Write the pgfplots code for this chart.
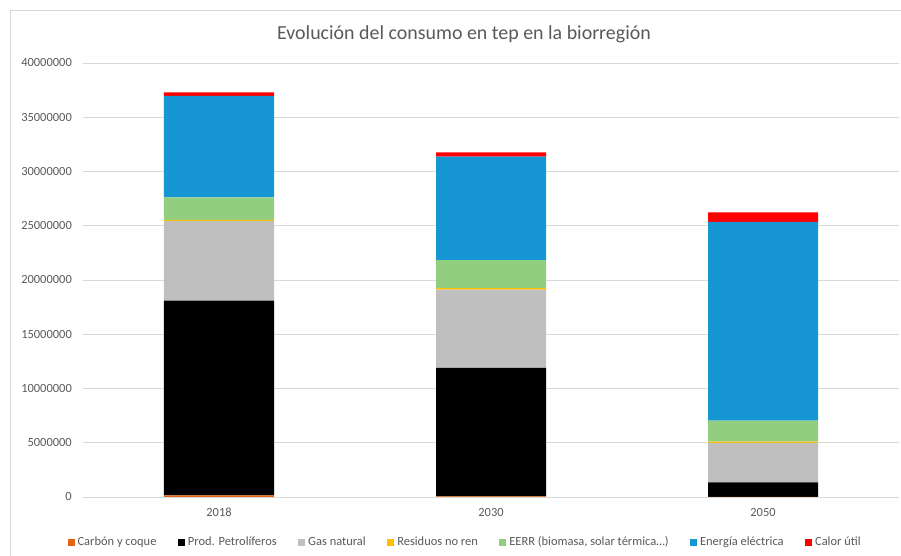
\documentclass[border=0pt]{standalone}
\usepackage{fontspec}
\setmainfont{Carlito}
\usepackage{pgfplots}
\pgfplotsset{compat=1.18}
\definecolor{txt}{RGB}{89,89,89}
\definecolor{gridc}{RGB}{217,217,217}
\definecolor{cCarbon}{RGB}{228,100,20}
\definecolor{cPetro}{RGB}{0,0,0}
\definecolor{cGas}{RGB}{191,191,191}
\definecolor{cRes}{RGB}{255,192,0}
\definecolor{cEERR}{RGB}{146,206,128}
\definecolor{cElec}{RGB}{22,150,210}
\definecolor{cCalor}{RGB}{255,0,0}
\begin{document}
\begin{tikzpicture}
\draw[gridc, line width=0.8bp] (-73bp,-70bp) -- (-73bp,487bp) -- (830bp,487bp);
\node[text=txt, font=\fontsize{20}{24}\selectfont] at (381bp,463bp) {Evolución del consumo en tep en la biorregión};
\begin{axis}[
  at={(0,0)}, anchor=south west,
  scale only axis, width=816bp, height=434bp,
  xmin=-0.5, xmax=2.5, ymin=0, ymax=40000000,
  ybar stacked, bar width=110bp,
  xtick={0,1,2}, xticklabels={2018,2030,2050},
  ytick={0,5000000,10000000,15000000,20000000,25000000,30000000,35000000,40000000},
  scaled y ticks=false,
  /pgf/number format/.cd, fixed, 1000 sep={}, assume math mode=true, /pgfplots/.cd,
  ymajorgrids, grid style={gridc, line width=0.8bp},
  major tick length=0pt,
  axis line style={draw=none},
  ticklabel style={font=\fontsize{12.5}{15}\selectfont, text=txt, inner sep=0pt},
  yticklabel style={anchor=east, xshift=-11bp},
  xticklabel style={anchor=north, yshift=-11bp},
  legend columns=7,
  legend style={at={(0.468,-0.1037)}, anchor=center, draw=none, fill=none,
    font=\fontsize{12.5}{15}\selectfont, text=txt, inner sep=0pt,
    nodes={inner sep=1.5bp},
    /tikz/every odd column/.append style={column sep=1.5bp},
    /tikz/every even column/.append style={column sep=20bp}},
  legend cell align=left,
  legend image code/.code={\fill[#1] (0bp,-3.5bp) rectangle (7bp,3.5bp);},
]
\addplot[fill=cCarbon, draw=none] coordinates {(0,150000) (1,50000) (2,20000)};
\addlegendentry{Carbón y coque}
\addplot[fill=cPetro, draw=none] coordinates {(0,17950000) (1,11840000) (2,1330000)};
\addlegendentry{Prod. Petrolíferos}
\addplot[fill=cGas, draw=none] coordinates {(0,7350000) (1,7220000) (2,3630000)};
\addlegendentry{Gas natural}
\addplot[fill=cRes, draw=none] coordinates {(0,100000) (1,150000) (2,120000)};
\addlegendentry{Residuos no ren}
\addplot[fill=cEERR, draw=none] coordinates {(0,2070000) (1,2580000) (2,1930000)};
\addlegendentry{EERR (biomasa, solar térmica\ldots)}
\addplot[fill=cElec, draw=none] coordinates {(0,9340000) (1,9520000) (2,18320000)};
\addlegendentry{Energía eléctrica}
\addplot[fill=cCalor, draw=none] coordinates {(0,340000) (1,410000) (2,890000)};
\addlegendentry{Calor útil}
\end{axis}
\pgfresetboundingbox
\path[use as bounding box] (-83bp,-59bp) rectangle (818bp,497bp);
\end{tikzpicture}
\end{document}
